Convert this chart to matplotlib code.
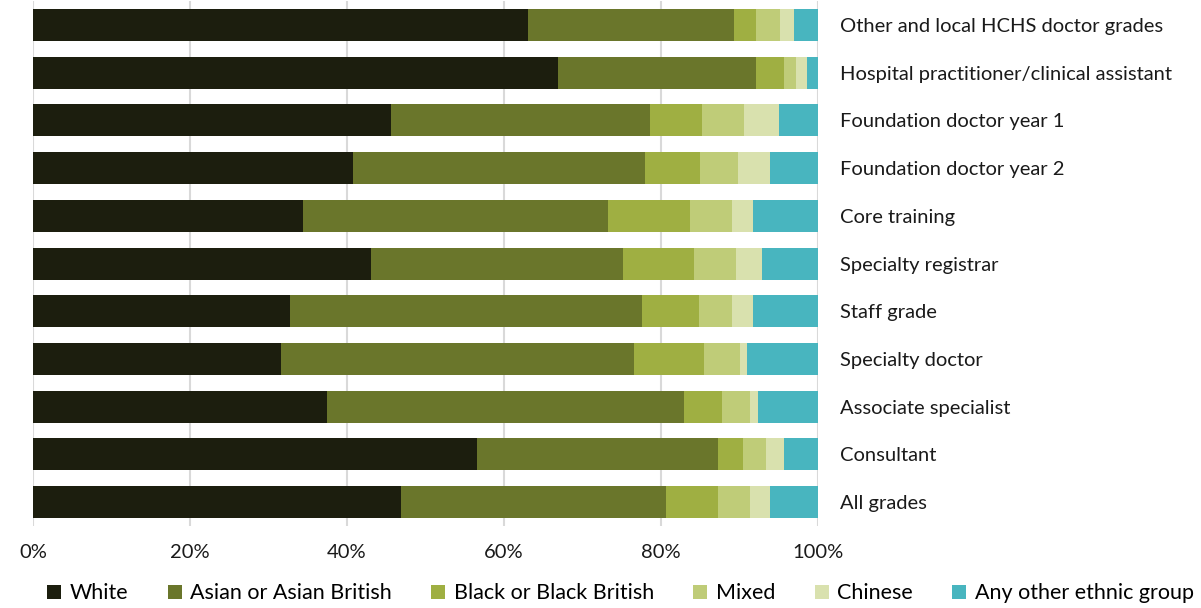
import matplotlib
matplotlib.use("Agg")
import matplotlib.pyplot as plt
from matplotlib.patches import Patch
import numpy as np

plt.rcParams['font.family'] = ['Lato', 'DejaVu Sans']

grades = [
    "Other and local HCHS doctor grades",
    "Hospital practitioner/clinical assistant",
    "Foundation doctor year 1",
    "Foundation doctor year 2",
    "Core training",
    "Specialty registrar",
    "Staff grade",
    "Specialty doctor",
    "Associate specialist",
    "Consultant",
    "All grades",
]

groups = ["White", "Asian or Asian British", "Black or Black British",
          "Mixed", "Chinese", "Any other ethnic group"]

# Share of each ethnic group (%) per grade, top to bottom
white = [63.0, 66.9, 45.6, 40.8, 34.4, 43.1, 32.7, 31.6, 37.5, 56.5, 46.9]
asian = [26.3, 25.2, 33.0, 37.1, 38.9, 32.0, 44.9, 45.0, 45.4, 30.8, 33.7]
black = [2.8, 3.6, 6.6, 7.1, 10.4, 9.1, 7.2, 8.9, 4.9, 3.1, 6.7]
mixed = [3.1, 1.5, 5.4, 4.8, 5.4, 5.3, 4.3, 4.6, 3.6, 3.0, 4.1]
chinese = [1.8, 1.4, 4.4, 4.1, 2.6, 3.4, 2.6, 0.8, 1.0, 2.3, 2.5]
other = [3.0, 1.4, 5.0, 6.1, 8.3, 7.1, 8.3, 9.1, 7.6, 4.3, 6.1]

colors = ["#1c1e0e", "#6a762b", "#9faf42", "#bfcc78", "#d9e1ae", "#48b5bf"]

xticks = [0, 20, 40, 60, 80, 100]
xtick_labels = ["0%", "20%", "40%", "60%", "80%", "100%"]

fig = plt.figure(figsize=(12.01, 6.08), dpi=100)
ax = fig.add_axes([0.0275, 0.135, 0.6536, 0.863])

series = [white, asian, black, mixed, chinese, other]
y = np.arange(len(grades))
left = np.zeros(len(grades))
for vals, col in zip(series, colors):
    vals = np.array(vals)
    ax.barh(y, vals, left=left, height=0.67, color=col, linewidth=0, zorder=3)
    left += vals

ax.set_xlim(0, 100)
ax.set_ylim(len(grades) - 0.5, -0.5)
ax.set_xticks(xticks)
ax.set_xticklabels(xtick_labels, fontsize=14.5, color="#1a1a1a")
ax.set_yticks(y)
ax.set_yticklabels(grades, fontsize=14.5, color="#1a1a1a")
ax.yaxis.tick_right()
ax.tick_params(axis='y', length=0, pad=16)
ax.tick_params(axis='x', length=0, pad=13)

ax.grid(axis='x', color="#d9d9d9", linewidth=1.5, zorder=0)
for s in ax.spines.values():
    s.set_visible(False)

handles = [Patch(facecolor=c, edgecolor='none') for c in colors]
fig.legend(handles, groups, loc='center', bbox_to_anchor=(0.5167, 0.024), ncol=6,
           frameon=False, fontsize=15.5, handlelength=0.65, handleheight=0.65,
           handletextpad=0.4, columnspacing=1.82)

fig.savefig("out.png", dpi=100)
